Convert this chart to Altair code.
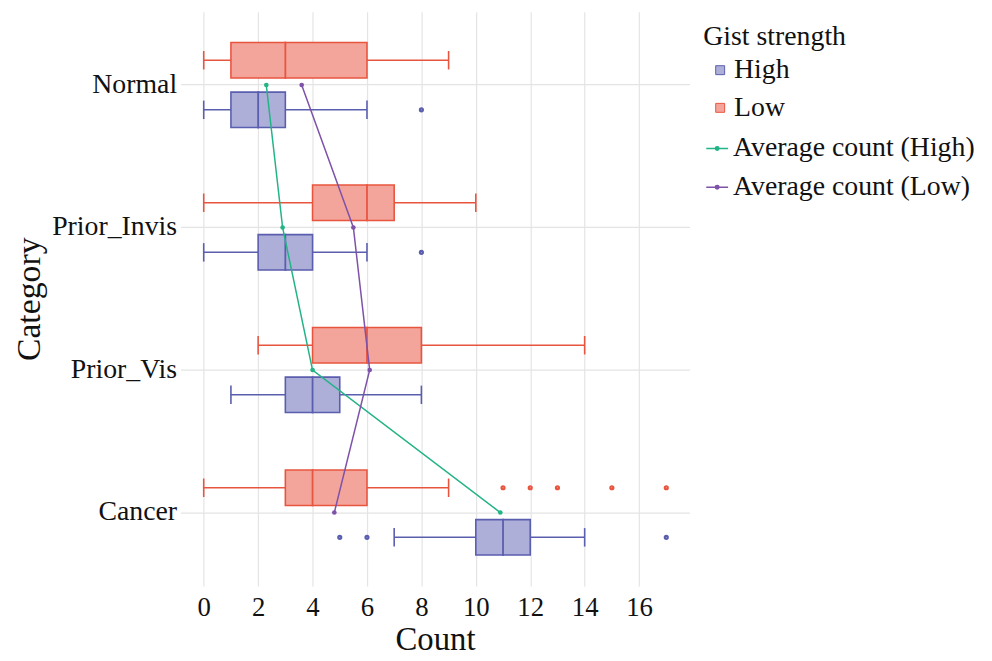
import altair as alt
import pandas as pd

categories = ["Normal", "Prior_Invis", "Prior_Vis", "Cancer"]

# Box statistics
low_lower = [0, 0, 2, 0]
low_q1 = [1, 4, 4, 3]
low_median = [3, 6, 6, 4]
low_q3 = [6, 7, 8, 6]
low_upper = [9, 10, 14, 9]

high_lower = [0, 0, 1, 7]
high_q1 = [1, 2, 3, 10]
high_median = [2, 3, 4, 11]
high_q3 = [3, 4, 5, 12]
high_upper = [6, 6, 8, 14]

low_outlier_cat = ["Cancer", "Cancer", "Cancer", "Cancer", "Cancer"]
low_outlier_val = [11, 12, 13, 15, 17]
high_outlier_cat = ["Normal", "Prior_Invis", "Cancer", "Cancer", "Cancer"]
high_outlier_val = [8, 8, 5, 6, 17]

mean_high = [2.3, 2.9, 4.0, 10.9]
mean_low = [3.6, 5.5, 6.1, 4.8]

x_ticks = [0, 2, 4, 6, 8, 10, 12, 14, 16]

FONT = "Liberation Serif"
HI_FILL, LO_FILL = "#adafd8", "#f4a59b"
HI_LINE, LO_LINE = "#5a5eae", "#e8553f"
GREEN, PURPLE = "#22b386", "#7d52a8"

box_rows = []
for g, lo, q1, md, q3, up in [
    ("Low", low_lower, low_q1, low_median, low_q3, low_upper),
    ("High", high_lower, high_q1, high_median, high_q3, high_upper),
]:
    for i, c in enumerate(categories):
        box_rows.append(dict(category=c, group=g, lower=lo[i], q1=q1[i],
                             median=md[i], q3=q3[i], upper=up[i]))
box_df = pd.DataFrame(box_rows)

out_df = pd.DataFrame(
    [dict(category=c, group="Low", value=v) for c, v in zip(low_outlier_cat, low_outlier_val)]
    + [dict(category=c, group="High", value=v) for c, v in zip(high_outlier_cat, high_outlier_val)]
)

mean_df = pd.DataFrame(
    [dict(category=c, series="Average count (High)", mean=v) for c, v in zip(categories, mean_high)]
    + [dict(category=c, series="Average count (Low)", mean=v) for c, v in zip(categories, mean_low)]
)

x_scale = alt.Scale(domain=[-0.85, 17.85], nice=False, zero=False)
x_axis = alt.Axis(title="Count", values=x_ticks, grid=True, ticks=False, domain=False,
                  labelFontSize=27, titleFontSize=33, labelPadding=9, titlePadding=3)
y_enc = alt.Y("category:N", sort=categories,
              scale=alt.Scale(domain=categories, paddingInner=0, paddingOuter=0.015),
              axis=alt.Axis(title="Category", grid=True, ticks=False, domain=False,
                            bandPosition=0.5, labelFontSize=28, titleFontSize=34,
                            labelPadding=4, titlePadding=5))
yoff = alt.YOffset("group:N", scale=alt.Scale(domain=["Low", "High"],
                                              paddingInner=0.286, paddingOuter=0.58))

legend_box = alt.Legend(title="Gist strength", orient="none", legendX=527, legendY=12,
                        symbolType="square", symbolSize=81, symbolStrokeWidth=1,
                        symbolOffset=3, labelOffset=0, rowPadding=10, padding=0,
                        labelLimit=0)
fill_enc = alt.Fill("group:N", scale=alt.Scale(domain=["High", "Low"], range=[HI_FILL, LO_FILL]),
                    legend=legend_box)
stroke_enc = alt.Stroke("group:N", scale=alt.Scale(domain=["High", "Low"], range=[HI_LINE, LO_LINE]),
                        legend=legend_box)

base = alt.Chart(box_df)

whisker = base.mark_rule(strokeWidth=1.5).encode(
    x=alt.X("lower:Q", scale=x_scale, axis=x_axis), x2="upper:Q",
    y=y_enc, yOffset=yoff, stroke=stroke_enc)

caps_lo = base.mark_tick(size=17, thickness=0.01, fillOpacity=0, strokeWidth=1.6).encode(
    x=alt.X("lower:Q", scale=x_scale), y=y_enc, yOffset=yoff, stroke=stroke_enc)
caps_hi = base.mark_tick(size=17, thickness=0.01, fillOpacity=0, strokeWidth=1.6).encode(
    x=alt.X("upper:Q", scale=x_scale), y=y_enc, yOffset=yoff, stroke=stroke_enc)

boxes = base.mark_bar(strokeWidth=1.6).encode(
    x=alt.X("q1:Q", scale=x_scale), x2="q3:Q",
    y=y_enc, yOffset=yoff, fill=fill_enc, stroke=stroke_enc)

medians = base.mark_tick(thickness=0.01, fillOpacity=0, strokeWidth=1.8).encode(
    x=alt.X("median:Q", scale=x_scale), y=y_enc, yOffset=yoff, stroke=stroke_enc)

outliers = alt.Chart(out_df).mark_point(shape="circle", filled=False, size=5, strokeWidth=3,
                                        opacity=1).encode(
    x=alt.X("value:Q", scale=x_scale), y=y_enc, yOffset=yoff, stroke=stroke_enc)

legend_line = alt.Legend(title=None, orient="none", legendX=527, legendY=124,
                         symbolType="M-1,0H1M-0.16,0a0.16,0.16 0 1,0 0.32,0a0.16,0.16 0 1,0 -0.32,0",
                         symbolSize=484, symbolStrokeWidth=1.5, labelOffset=2,
                         rowPadding=11, padding=0, labelLimit=0)
lines = alt.Chart(mean_df).mark_line(strokeWidth=1.5,
                                     point=alt.OverlayMarkDef(filled=True, size=22)).encode(
    x=alt.X("mean:Q", scale=x_scale), y=y_enc,
    color=alt.Color("series:N",
                    scale=alt.Scale(domain=["Average count (High)", "Average count (Low)"],
                                    range=[GREEN, PURPLE]),
                    legend=legend_line))

chart = alt.layer(whisker, caps_lo, caps_hi, boxes, medians, outliers, lines).properties(
    width=513, height=579,
    autosize=alt.AutoSizeParams(type="none"),
    padding={"left": 174, "top": 1, "right": 297, "bottom": 72},
).configure(
    font=FONT,
).configure_view(
    stroke=None
).configure_axis(
    labelFont=FONT, titleFont=FONT, labelColor="#111111", titleColor="#111111",
    titleFontWeight="normal", gridColor="#e4e4e4", gridWidth=1.2,
).configure_legend(
    labelFont=FONT, titleFont=FONT, labelFontSize=28, titleFontSize=28,
    titleFontWeight="normal", labelColor="#111111", titleColor="#111111",
    titlePadding=5,
)

chart.save("out.html", embed_options={"renderer": "svg", "actions": False})
